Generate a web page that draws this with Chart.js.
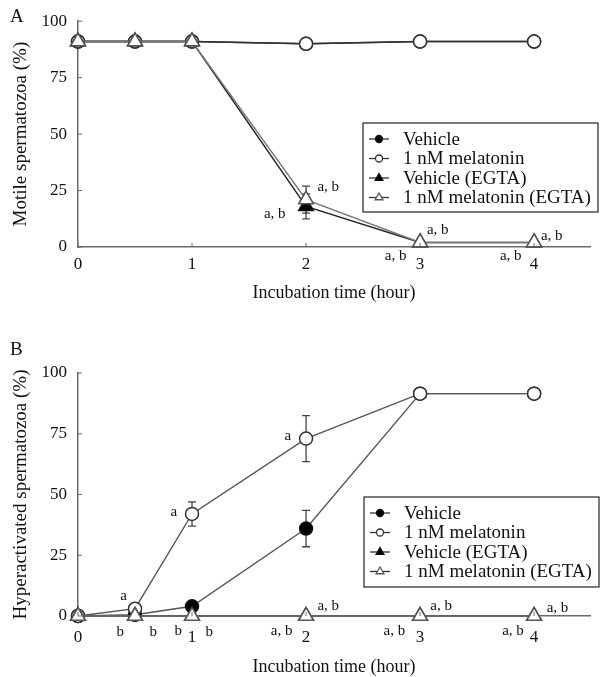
<!DOCTYPE html>
<html>
<head>
<meta charset="utf-8">
<script src="https://cdn.jsdelivr.net/npm/chart.js@4"></script>
<style>
  html, body { margin: 0; padding: 0; background: #fff; }
  .panel { position: absolute; left: 0; }
  #panelA { top: 0; }
  #panelB { top: 320px; }
</style>
</head>
<body>
<div class="panel" id="panelA"><canvas id="chartA" width="600" height="320"></canvas></div>
<div class="panel" id="panelB"><canvas id="chartB" width="600" height="357"></canvas></div>
<script>
// shared axes
const hours = [0, 0.5, 1, 2, 3, 4];
const xTicks = [0, 1, 2, 3, 4];
const yTicks = [0, 25, 50, 75, 100];
const seriesNames = ['Vehicle', '1 nM melatonin', 'Vehicle (EGTA)', '1 nM melatonin (EGTA)'];

// A: motile spermatozoa (%)
const motileVehicle = [91, 91, 91, 90, 91, 91];
const motileMelatonin = [91, 91, 91, 90, 91, 91];
const motileVehicleEGTA = [91, 91, 91, 18, 2, 2];
const motileMelatoninEGTA = [91, 91, 91, 21, 2, 2];
const motileVehicleEGTAErr = [0, 0, 0, 5.5, 0, 0];
const motileMelatoninEGTAErr = [0, 0, 0, 6, 0, 0];

// B: hyperactivated spermatozoa (%)
const hyperVehicle = [0, 0.5, 4, 36, 91.5, 91.5];
const hyperMelatonin = [0, 3, 42, 73, 91.5, 91.5];
const hyperVehicleEGTA = [0, 0, 0, 0, 0, 0];
const hyperMelatoninEGTA = [0, 0, 0, 0, 0, 0];
const hyperVehicleErr = [0, 0, 0, 7.5, 0, 0];
const hyperMelatoninErr = [0, 0, 5, 9.5, 0, 0];

// significance letters: [hour, %, text, align]
const notesA = [
    [1.82, 14.8, 'a, b', 'right'],
    [2.10, 26.7, 'a, b', 'left'],
    [3.06, 7.6, 'a, b', 'left'],
    [2.88, -3.8, 'a, b', 'right'],
    [4.06, 4.7, 'a, b', 'left'],
    [3.89, -4.2, 'a, b', 'right']
];
const notesB = [
    [0.40, 8.2, 'a', 'center'],
    [0.37, -6.6, 'b', 'center'],
    [0.66, -6.6, 'b', 'center'],
    [0.84, 42.8, 'a', 'center'],
    [0.88, -6.0, 'b', 'center'],
    [1.15, -6.6, 'b', 'center'],
    [1.84, 74, 'a', 'center'],
    [1.88, -6.0, 'a, b', 'right'],
    [2.10, 4.1, 'a, b', 'left'],
    [2.87, -6.0, 'a, b', 'right'],
    [3.09, 4.1, 'a, b', 'left'],
    [3.91, -6.0, 'a, b', 'right'],
    [4.11, 3.3, 'a, b', 'left']
];

const serif = '"Liberation Serif", "Times New Roman", serif';
const axisColor = '#6a6a6a';

const markers = [
    { pointStyle: 'circle', radius: 6.5, fill: '#000', stroke: '#111', small: 3.5 },
    { pointStyle: 'circle', radius: 6.5, fill: '#fff', stroke: '#333', small: 3.5 },
    { pointStyle: 'triangle', radius: 8.5, fill: '#000', stroke: '#111', small: 4.5 },
    { pointStyle: 'triangle', radius: 8.5, fill: '#fff', stroke: '#555', small: 4.5 }
];

function makeDataset(i, values, lineColor) {
    const m = markers[i];
    return {
        label: seriesNames[i],
        data: hours.map((h, k) => ({ x: h, y: values[k] })),
        borderColor: lineColor,
        borderWidth: 1.4,
        pointStyle: m.pointStyle,
        pointRadius: m.radius,
        pointBackgroundColor: m.fill,
        pointBorderColor: m.stroke,
        pointBorderWidth: 1.5,
        tension: 0,
        clip: false,
        order: 3 - i
    };
}

// error bars, inward ticks, letters, boxed legend
const extras = {
    id: 'extras',
    beforeDatasetsDraw(chart, args, opts) {
        const ctx = chart.ctx, xs = chart.scales.x, ys = chart.scales.y;
        ctx.save();
        ctx.strokeStyle = '#444';
        ctx.lineWidth = 1.3;
        opts.errors.forEach(e => {
            const pts = chart.data.datasets[e.dataset].data;
            e.err.forEach((d, k) => {
                if (!d) return;
                const px = xs.getPixelForValue(pts[k].x);
                const top = ys.getPixelForValue(pts[k].y + d);
                const bot = ys.getPixelForValue(pts[k].y - d);
                ctx.beginPath();
                ctx.moveTo(px, top); ctx.lineTo(px, bot);
                ctx.moveTo(px - 4, top); ctx.lineTo(px + 4, top);
                ctx.moveTo(px - 4, bot); ctx.lineTo(px + 4, bot);
                ctx.stroke();
            });
        });
        ctx.restore();
    },
    afterDraw(chart, args, opts) {
        const ctx = chart.ctx, xs = chart.scales.x, ys = chart.scales.y;
        ctx.save();
        // inward tick marks
        ctx.strokeStyle = axisColor;
        ctx.lineWidth = 1;
        ctx.beginPath();
        ys.ticks.forEach(t => {
            const py = ys.getPixelForValue(t.value);
            ctx.moveTo(xs.left, py); ctx.lineTo(xs.left + 4, py);
        });
        xs.ticks.forEach(t => {
            const px = xs.getPixelForValue(t.value);
            ctx.moveTo(px, ys.bottom); ctx.lineTo(px, ys.bottom - 4);
        });
        ctx.stroke();

        // significance letters
        ctx.fillStyle = '#111';
        ctx.font = '15px ' + serif;
        ctx.textBaseline = 'middle';
        opts.notes.forEach(([h, v, text, align]) => {
            ctx.textAlign = align;
            ctx.fillText(text, xs.getPixelForValue(h), ys.getPixelForValue(v));
        });

        // panel letter
        ctx.font = '19px ' + serif;
        ctx.textAlign = 'left';
        ctx.fillText(opts.letter, 10, opts.letterY);

        // legend box
        const lg = opts.legend;
        ctx.strokeStyle = '#222';
        ctx.lineWidth = 1.2;
        ctx.strokeRect(lg.x, lg.y, lg.w, lg.h);
        ctx.font = '19px ' + serif;
        chart.data.datasets.forEach((ds, i) => {
            const cy = lg.y + 16 + i * 19.5;
            const m = markers[i];
            ctx.strokeStyle = '#333';
            ctx.lineWidth = 1.3;
            ctx.beginPath();
            ctx.moveTo(lg.x + 6, cy); ctx.lineTo(lg.x + 26, cy);
            ctx.stroke();
            ctx.fillStyle = m.fill;
            ctx.strokeStyle = m.stroke;
            Chart.helpers.drawPoint(ctx, { pointStyle: m.pointStyle, radius: m.small, borderWidth: 1.2 }, lg.x + 16, cy);
            ctx.fillStyle = '#111';
            ctx.fillText(ds.label, lg.x + 40, cy + 1);
        });
        ctx.restore();
    }
};

function makeChart(id, datasets, cfg) {
    return new Chart(document.getElementById(id), {
        type: 'line',
        data: { datasets },
        plugins: [extras],
        options: {
            responsive: false,
            animation: false,
            events: [],
            layout: { padding: { top: cfg.top, right: 0, bottom: 0, left: 0 } },
            plugins: {
                legend: { display: false },
                tooltip: { enabled: false },
                extras: cfg.extras
            },
            scales: {
                x: {
                    type: 'linear',
                    min: 0,
                    max: 4.49,
                    afterBuildTicks: s => { s.ticks = xTicks.map(v => ({ value: v })); },
                    afterFit: s => { s.height = cfg.xHeight; },
                    grid: { display: true, drawOnChartArea: false, drawTicks: false },
                    border: { display: true, color: axisColor, width: 1.5 },
                    ticks: { color: '#111', padding: cfg.xTickPad, font: { family: serif, size: 17 }, maxRotation: 0 },
                    title: {
                        display: true, text: 'Incubation time (hour)', color: '#111',
                        font: { family: serif, size: 18, lineHeight: 1 },
                        padding: { top: 0, bottom: cfg.xTitlePad }
                    }
                },
                y: {
                    min: 0,
                    max: 100,
                    afterBuildTicks: s => { s.ticks = yTicks.map(v => ({ value: v })); },
                    afterFit: s => { s.width = 78; },
                    grid: { display: true, drawOnChartArea: false, drawTicks: false },
                    border: { display: true, color: axisColor, width: 1.5 },
                    ticks: { color: '#111', padding: 11, font: { family: serif, size: 17 } },
                    title: {
                        display: true, text: cfg.yTitle, color: '#111',
                        font: { family: serif, size: 19, lineHeight: 1 },
                        padding: { top: 12, bottom: 0 }
                    }
                }
            }
        }
    });
}

makeChart('chartA', [
    makeDataset(0, motileVehicle, '#333'),
    makeDataset(1, motileMelatonin, '#333'),
    makeDataset(2, motileVehicleEGTA, '#222'),
    makeDataset(3, motileMelatoninEGTA, '#777')
], {
    top: 11, xHeight: 73, xTickPad: 7, xTitlePad: 18,
    yTitle: 'Motile spermatozoa (%)',
    extras: {
        letter: 'A', letterY: 17,
        legend: { x: 363, y: 123, w: 235, h: 89 },
        notes: notesA,
        errors: [
            { dataset: 2, err: motileVehicleEGTAErr },
            { dataset: 3, err: motileMelatoninEGTAErr }
        ]
    }
});

makeChart('chartB', [
    makeDataset(0, hyperVehicle, '#555'),
    makeDataset(1, hyperMelatonin, '#555'),
    makeDataset(2, hyperVehicleEGTA, '#555'),
    makeDataset(3, hyperMelatoninEGTA, '#666')
], {
    top: 53, xHeight: 61, xTickPad: 11, xTitlePad: 1,
    yTitle: 'Hyperactivated spermatozoa (%)',
    extras: {
        letter: 'B', letterY: 30,
        legend: { x: 364, y: 177, w: 235, h: 90 },
        notes: notesB,
        errors: [
            { dataset: 0, err: hyperVehicleErr },
            { dataset: 1, err: hyperMelatoninErr }
        ]
    }
});
</script>
</body>
</html>
